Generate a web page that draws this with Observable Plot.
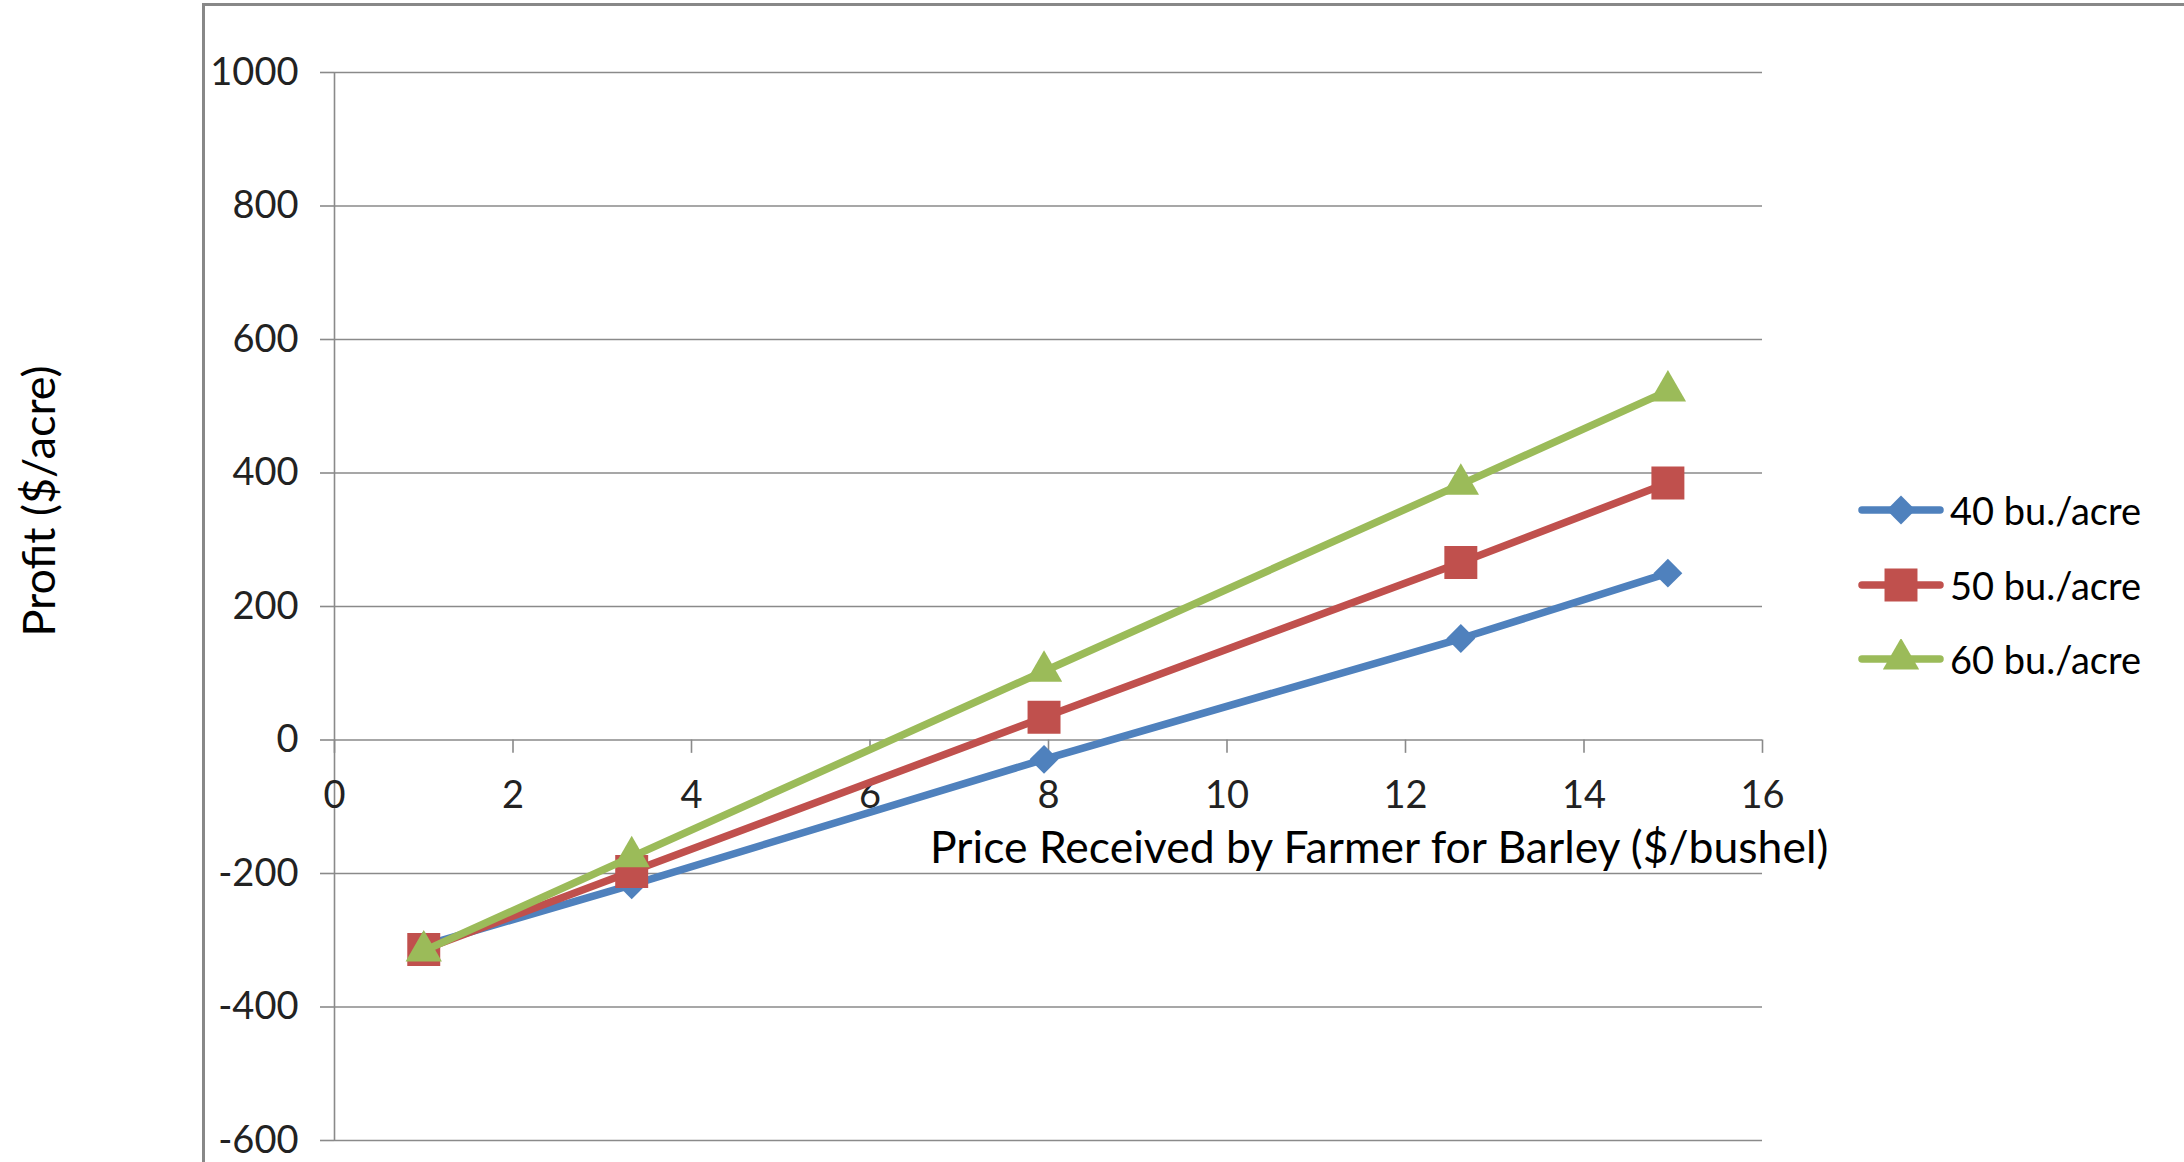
<!DOCTYPE html>
<html>
<head>
<meta charset="utf-8">
<script src="https://cdn.jsdelivr.net/npm/d3@7"></script>
<script src="https://cdn.jsdelivr.net/npm/@observablehq/plot@0.6"></script>
<style>
  body { margin: 0; background: #fff; font-family: Lato, "Open Sans", sans-serif; color: #000; }
  #wrap { position: relative; width: 2184px; height: 1162px; overflow: hidden; background: #fff; }
  #frame { position: absolute; left: 202px; top: 3px; width: 4000px; height: 4000px;
           border-left: 3px solid #888; border-top: 3px solid #888; }
  #chart { position: absolute; left: 0; top: 0; }
  .xtitle { position: absolute; left: 930px; top: 846px; transform: translateY(-50%);
            font-size: 44.5px; white-space: nowrap; line-height: 1; }
  .ytitle { position: absolute; left: 38px; top: 501px; transform: translate(-50%, -50%) rotate(-90deg);
            font-size: 45px; white-space: nowrap; line-height: 1; }
  #legend { position: absolute; left: 1858px; top: 0; }
  .item { position: absolute; left: 0; display: flex; align-items: center; transform: translateY(-50%);
          white-space: nowrap; font-size: 38px; line-height: 1; }
  .item svg { margin-right: 6px; }
</style>
</head>
<body>
<div id="wrap">
  <div id="frame"></div>
  <div id="chart"></div>
  <div class="xtitle">Price Received by Farmer for Barley ($/bushel)</div>
  <div class="ytitle">Profit ($/acre)</div>
  <div id="legend"></div>
</div>
<script>
// ---- data ----
const prices = [1, 3.33, 7.95, 12.62, 14.94];
const seriesNames = ["40 bu./acre", "50 bu./acre", "60 bu./acre"];
const profit40 = [-308, -217, -29, 152, 250];
const profit50 = [-314, -197, 34, 266, 385];
const profit60 = [-316, -175, 103, 383, 523];
const xTicks = [0, 2, 4, 6, 8, 10, 12, 14, 16];
const yTicks = [-600, -400, -200, 0, 200, 400, 600, 800, 1000];

// ---- styles ----
const colors = ["#4F81BD", "#C0504D", "#9BBB59"];
const symbols = ["diamond2", "square", "triangle"];
const radii = [13, 18.6, 13.5];
const grid = "#8a8a8a";

const seriesValues = [profit40, profit50, profit60];
const rows = seriesValues.map((vals, s) =>
  prices.map((p, i) => ({series: seriesNames[s], price: p, profit: vals[i]})));

const marks = [
  Plot.ruleY(yTicks, {y: d => d, stroke: grid, strokeWidth: 1.6}),
  Plot.ruleX([0], {x: d => d, y1: -600, y2: 1000, stroke: grid, strokeWidth: 1.6}),
  Plot.ruleX(xTicks, {x: d => d, y1: 0, y2: -20, stroke: grid, strokeWidth: 1.6}),
  Plot.text(xTicks, {x: d => d, y: 0, text: d => String(d), dy: 56, fontSize: 38, fill: "#222"}),
  Plot.axisY({ticks: yTicks, tickFormat: d => String(d), tickSize: 14, tickPadding: 22,
              fontSize: 38, stroke: grid, strokeWidth: 1.6, fill: "#222", label: null})
];
rows.forEach((data, s) => {
  marks.push(Plot.line(data, {x: "price", y: "profit", stroke: colors[s], strokeWidth: 7.5,
                              strokeLinejoin: "round", strokeLinecap: "round"}));
  marks.push(Plot.dot(data, {x: "price", y: "profit", symbol: () => symbols[s], r: radii[s],
                             fill: colors[s], stroke: "none"}));
});

const chart = Plot.plot({
  width: 2184,
  height: 1162,
  marginLeft: 334,
  marginRight: 422,
  marginTop: 72,
  marginBottom: 22,
  style: {fontFamily: "Lato, 'Open Sans', sans-serif", background: "transparent", overflow: "visible"},
  x: {domain: [0, 16], axis: null},
  y: {domain: [-600, 1000], axis: null},
  symbol: {type: "identity"},
  marks
});
document.getElementById("chart").appendChild(chart);

// ---- legend ----
const legend = document.getElementById("legend");
const legendY = [510, 585, 659];
seriesNames.forEach((name, s) => {
  const item = document.createElement("div");
  item.className = "item";
  item.style.top = legendY[s] + "px";
  const svg = d3.create("svg").attr("width", 86).attr("height", 40);
  svg.append("line").attr("x1", 4).attr("x2", 82).attr("y1", 20).attr("y2", 20)
    .attr("stroke", colors[s]).attr("stroke-width", 7.5).attr("stroke-linecap", "round");
  const symMap = {diamond2: d3.symbolDiamond2, square: d3.symbolSquare, triangle: d3.symbolTriangle};
  svg.append("path").attr("transform", "translate(43,20)")
    .attr("d", d3.symbol(symMap[symbols[s]], radii[s] * radii[s] * Math.PI)())
    .attr("fill", colors[s]);
  item.appendChild(svg.node());
  const t = document.createElement("span");
  t.textContent = name;
  item.appendChild(t);
  legend.appendChild(item);
});
</script>
</body>
</html>
